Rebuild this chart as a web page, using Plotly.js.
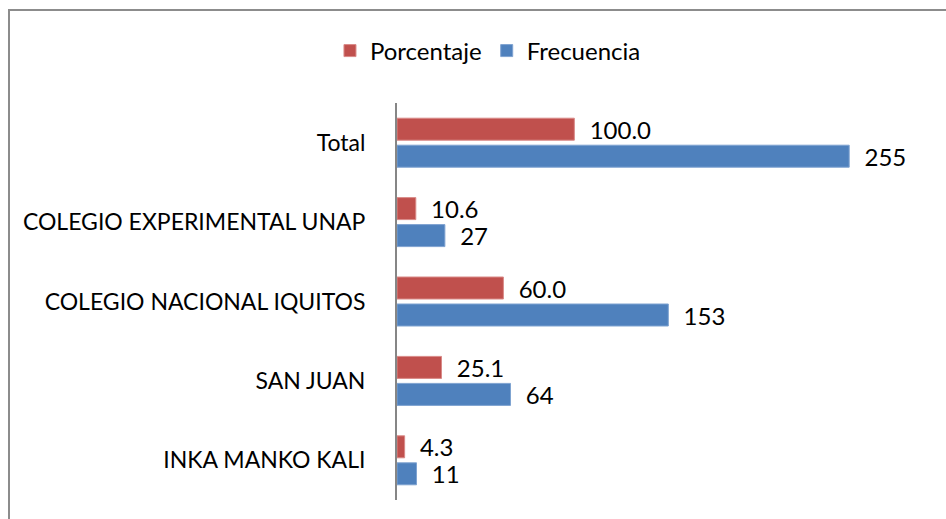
<!DOCTYPE html>
<html>
<head>
<meta charset="utf-8">
<script src="https://cdn.plot.ly/plotly-3.0.1.min.js"></script>
<style>
html,body{margin:0;padding:0;overflow:hidden;background:#fff;}
#frame{position:absolute;left:8px;top:9px;width:1000px;height:1000px;border:2px solid #8c8c8c;pointer-events:none;z-index:5;}
#chart{position:absolute;left:0;top:0;width:946px;height:519px;}
</style>
</head>
<body>
<div id="chart"></div>
<div id="frame"></div>
<script>
const categories = ["INKA MANKO KALI", "SAN JUAN", "COLEGIO NACIONAL IQUITOS", "COLEGIO EXPERIMENTAL UNAP", "Total"];
const frecuencia = [11, 64, 153, 27, 255];
const porcentaje = [4.3, 25.1, 60.0, 10.6, 100.0];

const FONT = "Lato, 'Open Sans', sans-serif";

const traces = [
  {
    type: "bar", orientation: "h", name: "Frecuencia",
    y: categories, x: frecuencia,
    marker: {color: "#4F81BD", line: {color: "#7fa3d1", width: 1}},
    text: frecuencia.map(v => String(v)),
    texttemplate: "  %{text}",
    textposition: "outside", cliponaxis: false, constraintext: "none",
    textfont: {family: FONT, size: 24, color: "#000"},
    hoverinfo: "skip"
  },
  {
    type: "bar", orientation: "h", name: "Porcentaje",
    y: categories, x: porcentaje,
    marker: {color: "#C0504D", line: {color: "#d98a88", width: 1}},
    text: porcentaje.map(v => v.toFixed(1)),
    texttemplate: "  %{text}",
    textposition: "outside", cliponaxis: false, constraintext: "none",
    textfont: {family: FONT, size: 24, color: "#000"},
    hoverinfo: "skip"
  }
];

const layout = {
  width: 946, height: 519,
  margin: {l: 397, r: 17, t: 103, b: 19, pad: 0},
  paper_bgcolor: "#fff", plot_bgcolor: "#fff",
  font: {family: FONT, size: 23, color: "#000"},
  barmode: "group", bargap: 0.32, bargroupgap: 0.185,
  showlegend: true,
  legend: {
    orientation: "h", traceorder: "reversed",
    x: 0.171, xanchor: "center", y: 1.131, yanchor: "middle",
    font: {family: FONT, size: 24, color: "#000"},
    bgcolor: "rgba(0,0,0,0)"
  },
  xaxis: {range: [0, 300], visible: false, fixedrange: true},
  yaxis: {
    type: "category", categoryorder: "array", categoryarray: categories,
    showline: true, linecolor: "#868686", linewidth: 2,
    showgrid: false, zeroline: false, ticks: "",
    ticklabelstandoff: 25,
    tickfont: {family: FONT, size: 23, color: "#000"},
    fixedrange: true
  }
};

Plotly.newPlot("chart", traces, layout, {displayModeBar: false, staticPlot: true});
</script>
</body>
</html>
